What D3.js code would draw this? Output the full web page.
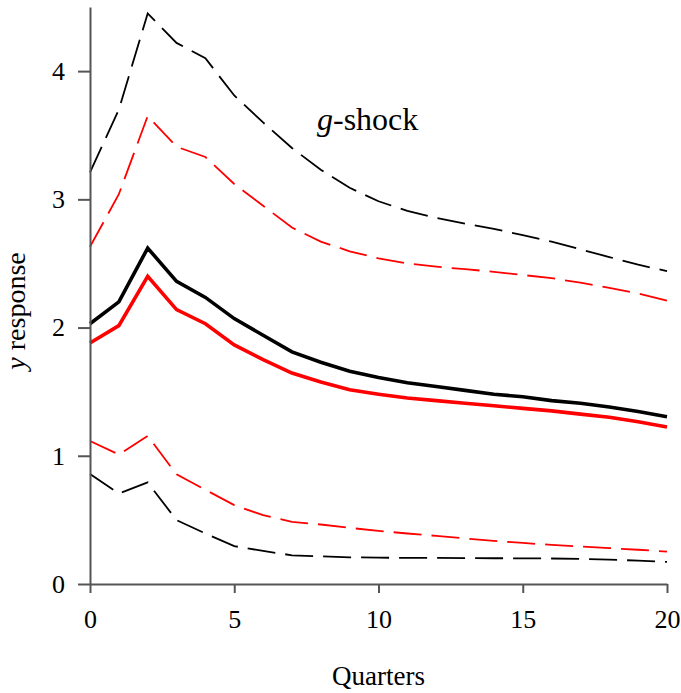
<!DOCTYPE html>
<html lang="en">
<head>
    <meta charset="UTF-8">
    <title>g-shock y response</title>
    <script src="https://cdn.jsdelivr.net/npm/d3@7"></script>
    <style>
        body { margin: 0; background: #fff; }
        svg { display: block; font-family: "Liberation Serif", "Times New Roman", serif; }
    </style>
</head>
<body>
    <div id="chart"></div>
    <script>
        const quarters = [0, 1, 2, 3, 4, 5, 6, 7, 8, 9, 10, 11, 12, 13, 14, 15, 16, 17, 18, 19, 20];

        const blackMid = [2.03, 2.20, 2.62, 2.36, 2.235, 2.07, 1.94, 1.81, 1.73, 1.66, 1.61, 1.57, 1.54, 1.51, 1.48, 1.46, 1.43, 1.41, 1.38, 1.345, 1.305];
        const blackUpper = [3.21, 3.70, 4.45, 4.22, 4.10, 3.81, 3.60, 3.40, 3.23, 3.09, 2.985, 2.91, 2.855, 2.81, 2.77, 2.72, 2.67, 2.61, 2.55, 2.49, 2.44];
        const blackLower = [0.857, 0.706, 0.792, 0.498, 0.394, 0.295, 0.258, 0.224, 0.216, 0.208, 0.206, 0.203, 0.203, 0.202, 0.201, 0.2, 0.199, 0.196, 0.19, 0.182, 0.172];

        const redMid = [1.88, 2.015, 2.40, 2.14, 2.03, 1.865, 1.75, 1.645, 1.575, 1.515, 1.48, 1.45, 1.43, 1.41, 1.39, 1.37, 1.35, 1.325, 1.30, 1.265, 1.225];
        const redUpper = [2.63, 3.04, 3.65, 3.41, 3.33, 3.12, 2.95, 2.78, 2.67, 2.595, 2.54, 2.50, 2.475, 2.455, 2.435, 2.41, 2.385, 2.35, 2.31, 2.265, 2.21];
        const redLower = [1.115, 1.01, 1.155, 0.855, 0.735, 0.615, 0.537, 0.485, 0.464, 0.438, 0.414, 0.394, 0.375, 0.355, 0.337, 0.32, 0.305, 0.292, 0.28, 0.267, 0.253];

        const xTicks = [0, 5, 10, 15, 20];
        const yTicks = [0, 1, 2, 3, 4];

        const series = [
            { values: blackUpper, color: "#000", width: 1.8, dash: "28,10" },
            { values: blackLower, color: "#000", width: 1.8, dash: "28,10" },
            { values: redUpper, color: "#ff0000", width: 1.8, dash: "28,10" },
            { values: redLower, color: "#ff0000", width: 1.8, dash: "28,10" },
            { values: blackMid, color: "#000", width: 3.6, dash: null },
            { values: redMid, color: "#ff0000", width: 3.6, dash: null }
        ];

        const W = 681, H = 693;
        const margin = { top: 7, right: 14, bottom: 109, left: 90 };
        const width = W - margin.left - margin.right;
        const height = H - margin.top - margin.bottom;
        const serif = "'Liberation Serif', 'Times New Roman', serif";

        const svg = d3.select("#chart").append("svg")
            .attr("width", W)
            .attr("height", H);

        const g = svg.append("g")
            .attr("transform", `translate(${margin.left},${margin.top})`);

        const x = d3.scaleLinear().domain([0, 20]).range([0, width]);
        const y = d3.scaleLinear().domain([0, 4.5]).range([height, 0]);

        const line = d3.line()
            .x((d, i) => x(quarters[i]))
            .y(d => y(d));

        series.forEach(s => {
            g.append("path")
                .datum(s.values)
                .attr("fill", "none")
                .attr("stroke", s.color)
                .attr("stroke-width", s.width)
                .attr("stroke-dasharray", s.dash)
                .attr("stroke-linejoin", "miter")
                .attr("d", line);
        });

        const axisColor = "#555";

        const yAxis = g.append("g")
            .call(d3.axisLeft(y).tickValues(yTicks).tickFormat(d3.format("d"))
                .tickSize(12).tickSizeOuter(0).tickPadding(13));
        yAxis.select(".domain").attr("stroke", axisColor).attr("stroke-width", 2);
        yAxis.selectAll(".tick line").attr("stroke", axisColor).attr("stroke-width", 2);
        yAxis.selectAll(".tick text")
            .attr("fill", "#000")
            .style("font-size", "26px")
            .style("font-family", serif);

        const xAxis = g.append("g")
            .attr("transform", `translate(0,${height})`)
            .call(d3.axisBottom(x).tickValues(xTicks).tickFormat(d3.format("d"))
                .tickSize(9).tickSizeOuter(0).tickPadding(17));
        xAxis.select(".domain").attr("stroke", axisColor).attr("stroke-width", 2);
        xAxis.selectAll(".tick line").attr("stroke", axisColor).attr("stroke-width", 2);
        xAxis.selectAll(".tick text")
            .attr("fill", "#000")
            .style("font-size", "26px")
            .style("font-family", serif);

        // x axis title
        svg.append("text")
            .attr("x", margin.left + x(10))
            .attr("y", 685)
            .attr("text-anchor", "middle")
            .style("font-size", "27px")
            .style("font-family", serif)
            .text("Quarters");

        // y axis title
        const yTitle = svg.append("text")
            .attr("transform", "translate(25,311) rotate(-90)")
            .attr("text-anchor", "middle")
            .style("font-size", "28px")
            .style("font-family", serif);
        yTitle.append("tspan").style("font-style", "italic").text("y");
        yTitle.append("tspan").text(" response");

        // panel label
        const label = svg.append("text")
            .attr("x", 317)
            .attr("y", 130)
            .style("font-size", "32px")
            .style("font-family", serif);
        label.append("tspan").style("font-style", "italic").text("g");
        label.append("tspan").text("-shock");
    </script>
</body>
</html>
